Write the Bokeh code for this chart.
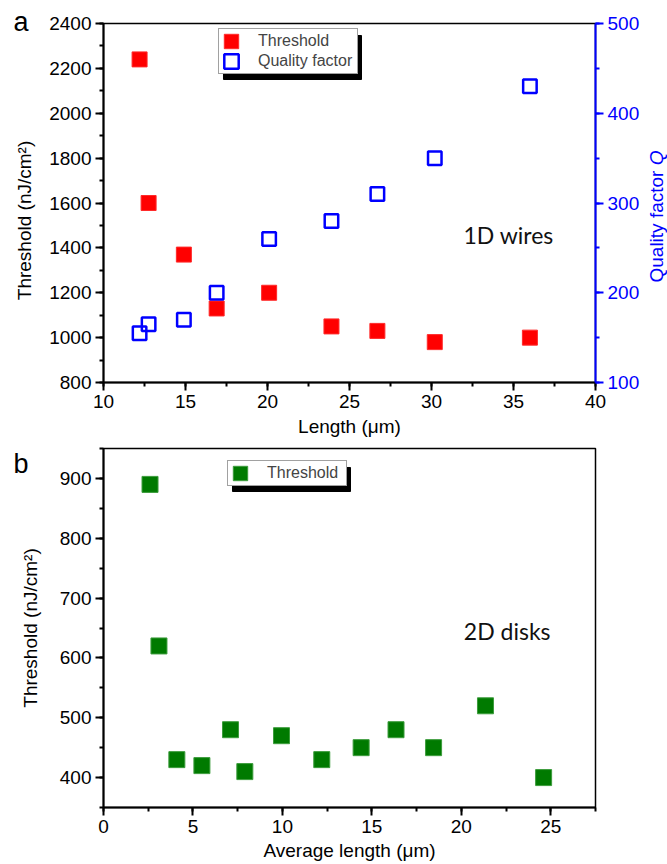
from math import pi
from bokeh.plotting import figure
from bokeh.models import (Range1d, LinearAxis, SingleIntervalTicker, Legend,
                          LegendItem, Label, ColumnDataSource, BoxAnnotation)
from bokeh.layouts import column
from bokeh.embed import file_html
from bokeh.resources import INLINE

# ---------------- data ----------------
wire_length = [12.2, 12.75, 14.9, 16.9, 20.1, 23.9, 26.7, 30.2, 36.0]
wire_threshold = [2240, 1600, 1370, 1130, 1200, 1050, 1030, 980, 1000]
wire_quality = [155, 165, 170, 200, 260, 280, 310, 350, 430]

disk_length = [2.6, 3.1, 4.1, 5.5, 7.1, 7.9, 9.95, 12.2, 14.4, 16.35, 18.45, 21.35, 24.6]
disk_threshold = [890, 620, 430, 420, 480, 410, 470, 430, 450, 480, 450, 520, 400]

FONT = "Liberation Sans"


def style_axis(ax, color="black"):
    ax.axis_line_color = color
    ax.axis_line_width = 2
    ax.major_tick_line_color = color
    ax.major_tick_line_width = 2
    ax.minor_tick_line_color = color
    ax.minor_tick_line_width = 2
    ax.major_tick_in = 0
    ax.major_tick_out = 8
    ax.minor_tick_in = 0
    ax.minor_tick_out = 4
    ax.major_label_text_font = FONT
    ax.major_label_text_font_size = "19px"
    ax.major_label_text_color = color
    ax.major_label_standoff = 4
    ax.axis_label_text_font = FONT
    ax.axis_label_text_font_size = "19px"
    ax.axis_label_text_font_style = "normal"
    ax.axis_label_text_color = color


def make_legend(items, loc, label_width):
    return Legend(items=items, location=loc, orientation="vertical",
                  padding=3, spacing=2, margin=0,
                  glyph_width=18, glyph_height=18, label_height=18,
                  label_width=label_width,
                  label_standoff=18, label_text_font=FONT,
                  label_text_font_size="16px",
                  border_line_color="#444444", border_line_width=1,
                  background_fill_color="white", background_fill_alpha=1)


# ---------------- panel a ----------------
p1 = figure(width=667, height=440, x_range=Range1d(10, 40), y_range=Range1d(800, 2400),
            output_backend="svg", toolbar_location=None,
            min_border_left=103, min_border_right=72, min_border_top=23, min_border_bottom=58)
p1.grid.visible = False
p1.outline_line_color = "black"
p1.outline_line_width = 1.5
p1.extra_y_ranges = {"q": Range1d(100, 500)}

p1.below[0].ticker = SingleIntervalTicker(interval=5, num_minor_ticks=2)
p1.left[0].ticker = SingleIntervalTicker(interval=200, num_minor_ticks=2)
style_axis(p1.below[0])
style_axis(p1.left[0])
p1.below[0].axis_label = "Length (\u03bcm)"
p1.below[0].axis_label_standoff = 5

qaxis = LinearAxis(y_range_name="q", ticker=SingleIntervalTicker(interval=100, num_minor_ticks=2))
style_axis(qaxis, "#0000FF")
p1.add_layout(qaxis, "right")

src_w = ColumnDataSource(dict(length=wire_length, threshold=wire_threshold, quality=wire_quality))
r_thr = p1.rect(x="length", y="threshold", width=15, height=15,
                width_units="screen", height_units="screen",
                fill_color="#FF0000", line_color="#FF2A2A", line_width=1, source=src_w)
r_q = p1.rect(x="length", y="quality", width=13.5, height=13.5,
              width_units="screen", height_units="screen",
              fill_color=None, line_color="#0000FF", line_width=2.5,
              y_range_name="q", source=src_w)

# legend drop shadow (behind legend box)
p1.add_layout(BoxAnnotation(left=17.317, right=25.732, bottom=2150.4, top=2346.5,
                            fill_color="black", fill_alpha=1, line_color="black",
                            line_alpha=1))
p1.add_layout(make_legend([LegendItem(label="Threshold", renderers=[r_thr]),
                           LegendItem(label="Quality factor", renderers=[r_q])],
                          (115, 308), 96), "center")

p1.add_layout(Label(x=5.183, y=1522, text="Threshold (nJ/cm\u00b2)",
                    angle=pi / 2, text_align="center", text_baseline="middle",
                    text_font=FONT, text_font_size="19px", text_color="black"), "left")
p1.add_layout(Label(x=43.69, y=211.4, y_range_name="q", text="Quality factor",
                    angle=pi / 2, text_align="left", text_baseline="middle",
                    text_font=FONT, text_font_size="19px", text_color="#0000FF"), "right")
p1.add_layout(Label(x=43.69, y=342.0, y_range_name="q", text="Q",
                    angle=pi / 2, text_align="left", text_baseline="middle",
                    text_font=FONT, text_font_size="19px", text_font_style="italic",
                    text_color="#0000FF"), "above")
p1.add_layout(Label(x=4.512, y=2407, text="a", text_align="left",
                    text_baseline="alphabetic", text_font=FONT,
                    text_font_size="27px", text_color="black"), "left")
p1.add_layout(Label(x=31.95, y=1457, text="1D wires", text_align="left",
                    text_baseline="alphabetic", text_font="Lato",
                    text_font_size="23px", text_color="#111111"))

# ---------------- panel b ----------------
p2 = figure(width=667, height=423, x_range=Range1d(0, 27.5), y_range=Range1d(350, 950),
            output_backend="svg", toolbar_location=None,
            min_border_left=103, min_border_right=72, min_border_top=8, min_border_bottom=56)
p2.grid.visible = False
p2.outline_line_color = "black"
p2.outline_line_width = 1.5

p2.below[0].ticker = SingleIntervalTicker(interval=5, num_minor_ticks=2)
p2.left[0].ticker = SingleIntervalTicker(interval=100, num_minor_ticks=2)
style_axis(p2.below[0])
style_axis(p2.left[0])
p2.below[0].axis_label = "Average length (\u03bcm)"
p2.below[0].axis_label_standoff = 4
p2.left[0].axis_label = "Threshold (nJ/cm\u00b2)"
p2.left[0].axis_label_standoff = 16

src_d = ColumnDataSource(dict(length=disk_length, threshold=disk_threshold))
r_d = p2.rect(x="length", y="threshold", width=16, height=16,
              width_units="screen", height_units="screen",
              fill_color="#007A00", line_color="#3C9C3C", line_width=1, source=src_d)

p2.add_layout(BoxAnnotation(left=7.210, right=13.806, bottom=878.13, top=918.25,
                            fill_color="black", fill_alpha=1, line_color="black",
                            line_alpha=1))
p2.add_layout(make_legend([LegendItem(label="Threshold", renderers=[r_d])],
                          (124, 321), 76), "center")

p2.add_layout(Label(x=20.14, y=644.4, text="2D disks", text_align="left",
                    text_baseline="alphabetic", text_font="Lato",
                    text_font_size="23px", text_color="#111111"))
p2.add_layout(Label(x=-5.03, y=923.8, text="b", text_align="left",
                    text_baseline="alphabetic", text_font=FONT,
                    text_font_size="27px", text_color="black"), "left")

layout = column(p1, p2)
open("out.html", "w").write(file_html(layout, INLINE))
